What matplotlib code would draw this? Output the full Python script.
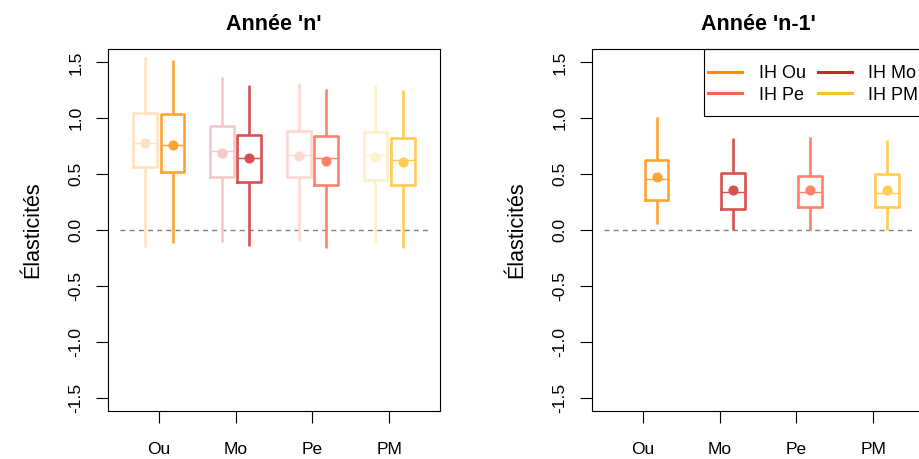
import matplotlib
matplotlib.use('Agg')
import matplotlib.pyplot as plt
from matplotlib.colors import to_rgb
from matplotlib.lines import Line2D
from matplotlib.patches import Rectangle

plt.rcParams['font.family'] = ['Liberation Sans', 'DejaVu Sans']
plt.rcParams['axes.unicode_minus'] = False

categories = ['Ou', 'Mo', 'Pe', 'PM']
legend_labels = ['IH Ou', 'IH Mo', 'IH Pe', 'IH PM']
colors = ['#FF8C00', '#CD2626', '#FF6347', '#FFC125']
titles = ["Année 'n'", "Année 'n-1'"]
ylabel = 'Élasticités'
yticks = [-1.5, -1.0, -0.5, 0.0, 0.5, 1.0, 1.5]
ytick_labels = ['-1.5', '-1.0', '-0.5', '0.0', '0.5', '1.0', '1.5']

# Année 'n' : light (faded) series
n_light_whislo = [-0.15, -0.11, -0.10, -0.12]
n_light_q1 = [0.56, 0.47, 0.47, 0.45]
n_light_med = [0.78, 0.71, 0.67, 0.67]
n_light_q3 = [1.05, 0.93, 0.89, 0.88]
n_light_whishi = [1.55, 1.37, 1.32, 1.30]
n_light_mean = [0.78, 0.69, 0.66, 0.65]

# Année 'n' : dark series
n_dark_whislo = [-0.12, -0.14, -0.16, -0.16]
n_dark_q1 = [0.52, 0.43, 0.40, 0.40]
n_dark_med = [0.76, 0.64, 0.64, 0.63]
n_dark_q3 = [1.04, 0.85, 0.84, 0.82]
n_dark_whishi = [1.52, 1.30, 1.26, 1.25]
n_dark_mean = [0.76, 0.64, 0.62, 0.61]

# Année 'n-1'
n1_whislo = [0.05, 0.0, 0.0, 0.0]
n1_q1 = [0.27, 0.19, 0.21, 0.21]
n1_med = [0.46, 0.34, 0.34, 0.33]
n1_q3 = [0.63, 0.51, 0.48, 0.50]
n1_whishi = [1.01, 0.82, 0.83, 0.81]
n1_mean = [0.47, 0.36, 0.36, 0.36]

W, H = 919, 459
fig = plt.figure(figsize=(W / 100, H / 100), dpi=100)


def blend(c, a):
    r, g, b = to_rgb(c)
    return (1 - a + a * r, 1 - a + a * g, 1 - a + a * b)


def draw_box(ax, pos, lo, q1, med, q3, hi, mean, color, alpha):
    c = blend(color, alpha)
    st = [dict(whislo=lo, q1=q1, med=med, q3=q3, whishi=hi, mean=mean, fliers=[])]
    ax.bxp(st, positions=[pos], widths=0.31, showmeans=True, showcaps=False,
           showfliers=False, manage_ticks=False,
           boxprops=dict(color=c, linewidth=1.9),
           whiskerprops=dict(color=c, linewidth=1.9, solid_capstyle='butt'),
           medianprops=dict(color=c, linewidth=1.0),
           meanprops=dict(marker='o', markerfacecolor=c, markeredgecolor=c,
                          markersize=6.3))


def setup(ax, title):
    ax.set_xlim(0.34, 4.66)
    ax.set_ylim(-1.62, 1.62)
    ax.set_yticks(yticks)
    ax.set_yticklabels(ytick_labels, rotation=90, va='center')
    ax.set_xticks(range(1, 5))
    ax.set_xticklabels(categories)
    ax.tick_params(axis='both', length=8.6, width=0.8, labelsize=12.5, direction='out')
    ax.tick_params(axis='y', pad=9)
    ax.tick_params(axis='x', pad=13.5)
    for s in ax.spines.values():
        s.set_linewidth(0.8)
    ax.set_ylabel(ylabel, fontsize=15.5, va='center')
    ax.yaxis.set_label_coords(-0.226, 0.5)
    ax.set_title(title, fontweight='bold', fontsize=15.5, y=1.068, va='center', pad=0)
    ax.hlines(0, 0.5, 4.5, colors='#808080', linewidth=1.0, linestyles=(0, (3.6, 3.0)), zorder=1)


b = 1 - 411 / H
h = 362 / H
w = 332 / W
ax1 = fig.add_axes([108 / W, b, w, h])
ax2 = fig.add_axes([592 / W, b, w, h])

for i in range(4):
    draw_box(ax1, i + 1 - 0.18, n_light_whislo[i], n_light_q1[i], n_light_med[i],
             n_light_q3[i], n_light_whishi[i], n_light_mean[i], colors[i], 0.25)
    draw_box(ax1, i + 1 + 0.18, n_dark_whislo[i], n_dark_q1[i], n_dark_med[i],
             n_dark_q3[i], n_dark_whishi[i], n_dark_mean[i], colors[i], 0.8)
    draw_box(ax2, i + 1 + 0.18, n1_whislo[i], n1_q1[i], n1_med[i],
             n1_q3[i], n1_whishi[i], n1_mean[i], colors[i], 0.8)

setup(ax1, titles[0])
setup(ax2, titles[1])

handles = [Line2D([], [], color=c, linewidth=2.2) for c in colors]
# order so that rows read: IH Ou, IH Mo / IH Pe, IH PM (column-major fill)
order = [0, 2, 1, 3]
leg = fig.legend([handles[k] for k in order], [legend_labels[k] for k in order],
                 ncol=2, loc='upper left',
                 bbox_to_anchor=(708 / W, 1 - 65 / H), bbox_transform=fig.transFigure,
                 frameon=False, fontsize=13, borderpad=0, borderaxespad=0,
                 handlelength=1.9, handletextpad=0.9, columnspacing=0.68,
                 labelspacing=0.25)
fig.patches.append(Rectangle((704 / W, 1 - 116 / H), 240 / W, 67 / H,
                             transform=fig.transFigure, fill=False,
                             edgecolor='black', linewidth=0.8, figure=fig))

fig.savefig('out.png', dpi=100)
